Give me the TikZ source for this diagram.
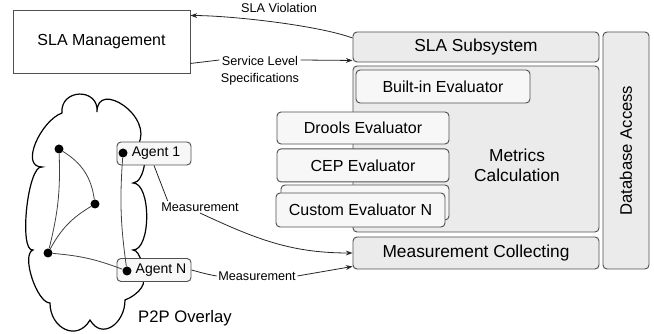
\documentclass[tikz,border=0pt]{standalone}
\usepackage{fontspec}
\setmainfont{Liberation Sans}
\usepackage{tikz}
\usetikzlibrary{arrows.meta,positioning}

\newlength{\px}
\setlength{\px}{0.75pt}

\definecolor{boxline}{HTML}{505050}
\definecolor{partfill}{HTML}{EBEBEB}
\definecolor{evalfill}{HTML}{F7F7F7}
\definecolor{linkgray}{HTML}{404040}

\begin{document}
\begin{tikzpicture}[x=0.75pt, y=-0.75pt, >={Stealth[length=5pt,width=3.6pt]}]

    % Define block styles
    \tikzstyle{box} = [draw=boxline, line width=0.7pt, rounded corners=4\px, inner sep=0pt]
    \tikzstyle{part} = [box, fill=partfill, font=\fontsize{13}{15}\selectfont]
    \tikzstyle{evalbox} = [box, fill=evalfill, font=\fontsize{12}{14}\selectfont, minimum height=33\px]
    \tikzstyle{agent} = [box, fill=evalfill, font=\fontsize{10.5}{12}\selectfont, minimum width=74\px, minimum height=23\px]
    \tikzstyle{peer} = [circle, fill=black, inner sep=0pt, minimum size=9\px]
    \tikzstyle{link} = [draw=linkgray, line width=0.6pt]
    \tikzstyle{msg} = [font=\fontsize{9.5}{12.5}\selectfont, inner sep=1pt, align=center]
    \tikzstyle{flow} = [draw=black!85, line width=0.6pt]

    \useasboundingbox (0,0) rectangle (654,334);

    % SLA management
    \node[draw=boxline, line width=0.7pt, fill=white, minimum width=177\px, minimum height=63\px,
          font=\fontsize{12}{14}\selectfont] (mgmt) at (101.5,41.5) {SLA Management};

    % SLA subsystem
    \node[part, minimum width=246\px, minimum height=30\px] (subsys) at (476,47) {SLA Subsystem};
    \node[part, rotate=90, minimum width=237\px, minimum height=46\px,
          font=\fontsize{12.5}{15}\selectfont] (dbacc) at (626,150.5) {Database Access};
    \node[part, minimum width=246\px, minimum height=166\px] (metrics) at (476,149) {};
    \node[font=\fontsize{13}{15}\selectfont, align=center] (metricstxt) at (517,165) {Metrics\\Calculation};
    \node[part, minimum width=246\px, minimum height=32\px] (meascoll) at (476,253) {Measurement Collecting};

    % Evaluators
    \node[evalbox, minimum width=174\px] (builtin) at (443,86.5) {Built-in Evaluator};
    \node[evalbox, minimum width=172\px, minimum height=32\px] (drools) at (363,128) {Drools Evaluator};
    \node[evalbox, minimum width=172\px, below=4\px of drools] (cep) {CEP Evaluator};
    \node[evalbox, minimum width=168\px, minimum height=35\px] (customback) at (365,202.5) {};
    \node[evalbox, minimum width=169\px, minimum height=34\px] (custom) at (360.5,210) {Custom Evaluator N};

    % P2P overlay
    \draw[line width=0.9pt] (62,113)
        to[out=95,in=85,looseness=1.8] (97,112)
        to[out=90,in=60,looseness=1.6] (138,145)
        to[out=0,in=0,looseness=0.8] (133,183)
        to[out=0,in=0,looseness=0.7] (133,250)
        to[out=0,in=0,looseness=0.8] (138,275)
        to[out=-20,in=20,looseness=1.3] (125,300)
        to[out=-90,in=-60,looseness=1.5] (90,320)
        to[out=-120,in=-90,looseness=1.5] (50,303)
        to[out=180,in=200,looseness=0.6] (33,250)
        to[out=190,in=170,looseness=0.45] (42,167)
        to[out=180,in=200,looseness=1] (62,113) -- cycle;
    \node[font=\fontsize{12.5}{15}\selectfont] (overlay) at (185,318) {P2P Overlay};

    \node[agent] (agent1) at (154,153.5) {\hspace*{4\px}Agent 1};
    \node[agent] (agentN) at (154,270) {\hspace*{14\px}Agent N};

    \node[peer] (pa) at (59,149) {};
    \node[peer] (pb) at (95,204) {};
    \node[peer] (pc) at (48,253) {};
    \node[peer] (p1) at (123,153) {};
    \node[peer] (pN) at (127,271) {};

    \draw[link] (pa) to[bend left=8] (pc);
    \draw[link] (pa) to[bend left=25] (pb);
    \draw[link] (pb) to[bend right=15] (pc);
    \draw[link] (pc) to[bend left=8] (pN);
    \draw[link] (p1) to[bend right=6] (pN);

    % Labels
    \node[msg] (viol) at (279,8) {SLA Violation};
    \node[msg] (spec) at (260,71) {Service Level\\Specifications};
    \node[msg] (meas1) at (200,207) {Measurement};
    \node[msg] (meas2) at (257,276) {Measurement};

    % Flows
    \draw[flow, ->] ([yshift=9\px]subsys.west) to[out=160,in=0,looseness=0.6] ([yshift=-6\px]mgmt.north east);
    \draw[flow] ([yshift=10\px]mgmt.south east) -- ([yshift=11\px]spec.west);
    \draw[flow, ->] ([yshift=11\px]spec.east) -- ([yshift=2\px]subsys.south west);
    \draw[flow] (agent1.south) -- ([xshift=8\px]meas1.north west);
    \draw[flow, ->] (meas1.south) to[out=-25,in=180] (meascoll.west);
    \draw[flow] (agentN.east) to[out=-15,in=170] (meas2.west);
    \draw[flow, ->] (meas2.east) -- ([yshift=3\px]meascoll.south west);

\end{tikzpicture}
\end{document}
